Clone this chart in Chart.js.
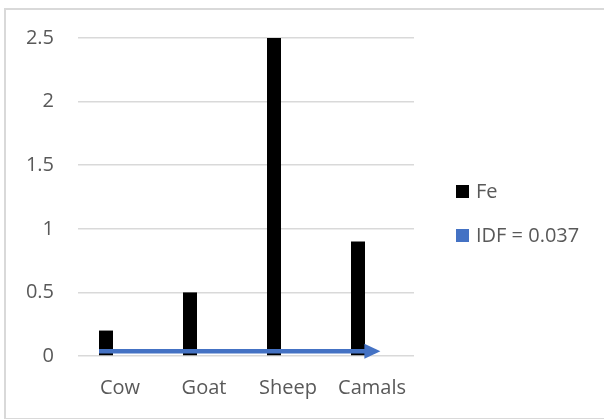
<!DOCTYPE html>
<html>
<head>
<meta charset="utf-8">
<script src="https://cdn.jsdelivr.net/npm/chart.js@4"></script>
<style>
  html, body { margin: 0; padding: 0; background: #fff; }
  #wrap { position: relative; width: 604px; height: 419px; overflow: hidden; font-family: 'Open Sans', sans-serif; }
  #frame { position: absolute; left: 4px; top: 8px; width: 700px; height: 408px; border: 2px solid #d9d9d9; }
  #chart { position: absolute; left: 0; top: 0; }
  #legend { position: absolute; left: 456px; top: 176px; margin: 0; padding: 0; list-style: none; }
  #legend li { height: 44px; display: flex; align-items: flex-start; font-size: 20px; line-height: 30px; color: #595959; white-space: nowrap; }
  #legend .box { width: 13px; height: 13px; margin: 9px 7px 0 0; flex: none; }
</style>
</head>
<body>
<div id="wrap">
  <div id="frame"></div>
  <canvas id="chart" width="604" height="419"></canvas>
  <ul id="legend"></ul>
</div>
<script>
const categories = ['Cow', 'Goat', 'Sheep', 'Camals'];
const feValues = [0.2, 0.5, 2.5, 0.9];
const idfLevel = 0.037;
const yTicks = [0, 0.5, 1, 1.5, 2, 2.5];
// arrow runs from the first bar to just past the last category (category index units)
const arrowEnd = 3.1;

const textColor = '#595959';
const gridColor = '#d9d9d9';
const idfBlue = '#4472C4';

// blue arrow for the IDF level, drawn over the bars
const idfArrow = {
  id: 'idfArrow',
  afterDatasetsDraw(chart) {
    const { ctx, scales: { x, y } } = chart;
    const firstBar = chart.getDatasetMeta(0).data[0];
    const x0 = firstBar.x - firstBar.width / 2;
    const x1 = x.getPixelForValue(arrowEnd);
    const yy = y.getPixelForValue(idfLevel);
    const head = 16, half = 7.5;
    ctx.save();
    ctx.strokeStyle = idfBlue;
    ctx.fillStyle = idfBlue;
    ctx.lineWidth = 4.5;
    ctx.beginPath();
    ctx.moveTo(x0, yy);
    ctx.lineTo(x1 - head + 1, yy);
    ctx.stroke();
    ctx.beginPath();
    ctx.moveTo(x1, yy);
    ctx.lineTo(x1 - head, yy - half);
    ctx.lineTo(x1 - head, yy + half);
    ctx.closePath();
    ctx.fill();
    ctx.restore();
  }
};

const chart = new Chart(document.getElementById('chart'), {
  type: 'bar',
  data: {
    labels: categories,
    datasets: [
      { label: 'Fe', data: feValues, backgroundColor: '#000000', borderWidth: 0 },
      { label: 'IDF = ' + idfLevel, data: categories.map(() => null), backgroundColor: idfBlue, borderWidth: 0 }
    ]
  },
  options: {
    responsive: false,
    animation: false,
    categoryPercentage: 2 / 3,
    barPercentage: 0.5,
    layout: { padding: { top: 38, bottom: 0, left: 0, right: 190 } },
    plugins: {
      tooltip: { enabled: false },
      legend: { display: false }
    },
    scales: {
      x: {
        grid: { display: false, drawTicks: false },
        border: { display: false },
        ticks: { color: textColor, font: { family: 'Open Sans', size: 20 }, padding: 20 },
        afterFit: (s) => { s.height = 63; }
      },
      y: {
        min: 0,
        max: 2.5,
        afterBuildTicks: (s) => { s.ticks = yTicks.map((v) => ({ value: v })); },
        grid: { color: gridColor, lineWidth: 1.5, drawTicks: false },
        border: { display: false },
        ticks: {
          color: textColor,
          font: { family: 'Open Sans', size: 20 },
          padding: 24,
          callback: (v) => String(v)
        },
        afterFit: (s) => { s.width = 78; }
      }
    }
  },
  plugins: [idfArrow]
});

// legend on the right, built from the chart's own legend items
const legendEl = document.getElementById('legend');
chart.options.plugins.legend.labels.generateLabels(chart).forEach((item) => {
  const li = document.createElement('li');
  const box = document.createElement('span');
  box.className = 'box';
  box.style.background = item.fillStyle;
  li.appendChild(box);
  li.appendChild(document.createTextNode(item.text));
  legendEl.appendChild(li);
});
</script>
</body>
</html>
